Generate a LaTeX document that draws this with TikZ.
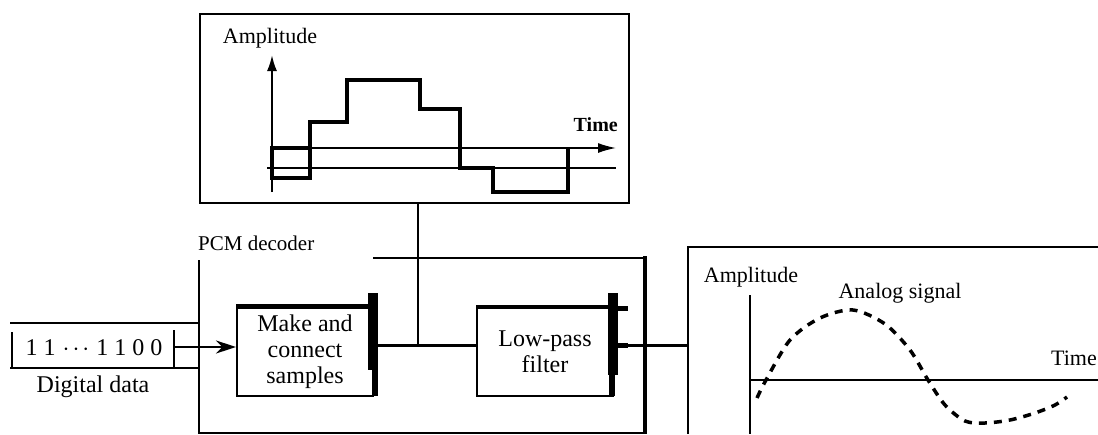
\documentclass[tikz,border=0pt]{standalone}
\usepackage{fontspec}
\setmainfont{Liberation Serif}
\usetikzlibrary{arrows.meta}

\begin{document}
\begin{tikzpicture}[x=1pt,y=-1pt,
    blk/.style={draw,line width=2pt,align=center,inner sep=0pt,
      font=\fontsize{24}{26}\selectfont},
    lbl/.style={inner sep=0pt,font=\fontsize{22}{24}\selectfont},
    ln/.style={line width=2pt},
    stair/.style={line width=4.5pt,line join=miter},
    bar/.style={line width=10pt},
    sig/.style={line width=3.5pt,dash pattern=on 8pt off 7pt}]
    \useasboundingbox (0,0) rectangle (1098,434);

    % 上のグラフ
    \node[draw,ln,inner sep=0pt,minimum width=429pt,minimum height=189pt,
      anchor=north west] (tb) at (199,13) {};
    \node[lbl] (amp1) at (270,38) {Amplitude};
    \node[lbl,anchor=east,font=\fontsize{20}{22}\selectfont\bfseries] (time1) at (618,125) {Time};
    \coordinate (o1) at (272,192);
    \coordinate (v1) at (272,55);
    \coordinate (h1) at (270,148);
    \coordinate (t1) at (616,148);
    \draw [ln,-{Latex[length=16pt,width=10pt]}] (o1) -- (v1);
    \draw [line width=1.5pt,-{Latex[length=18pt,width=10pt]}] (h1) -- (t1);
    \draw [line width=1.5pt] (267,168) -- (616,168);
    \draw [stair] (310,148) -- (272,148) -- (272,178) -- (310,178) -- (310,122)
      -- (347,122) -- (347,80) -- (420,80) -- (420,109) -- (460,109)
      -- (460,168) -- (493,168) -- (493,192) -- (568,192) -- (568,148);

    % PCM decoder
    \node[lbl,anchor=west,font=\fontsize{21}{23}\selectfont] (pcm) at (198,243) {PCM decoder};
    \draw [ln] (199,260) -- (199,434);
    \draw [ln] (373,258) -- (645,258);
    \draw [ln] (199,433) -- (645,433);
    \draw [line width=4pt] (645,256) -- (645,434);

    % ブロック
    \node[blk,minimum width=136pt,minimum height=89pt] (mk) at (305,351.5)
      {Make and\\connect\\samples};
    \node[blk,minimum width=136pt,minimum height=88pt] (lp) at (545,352)
      {Low-pass\\filter};
    \draw [line width=5pt] (mk.north west) -- (mk.north east);
    \draw [line width=4pt] (lp.north west) -- (lp.north east);
    \draw [bar] (373,293) -- (373,370);
    \draw [line width=6pt] (375,370) -- (375,396);
    \draw [bar] (613,293) -- (613,375);
    \draw [line width=6pt] (612,375) -- (612,396);
    \draw [line width=5pt] (608,308) -- (628,308);
    \draw [line width=5pt] (608,345) -- (628,345);

    % 接続線
    \coordinate (j) at (418,345);
    \coordinate (rb) at (688,345);
    \draw [ln] (tb.south -| j) -- (j);
    \draw [line width=3pt] (mk.east |- j) -- (j) -- (lp.west |- j);
    \draw [line width=3pt] (lp.east |- j) -- (rb);

    % ディジタルデータ
    \node[lbl,font=\fontsize{24}{26}\selectfont] (bits) at (94,348)
      {1\hspace{6pt}1\hspace{7pt}$\cdot$\hspace{3pt}$\cdot$\hspace{3pt}$\cdot$\hspace{7pt}1\hspace{6pt}1\hspace{6pt}0\hspace{6pt}0};
    \node[lbl,font=\fontsize{24}{26}\selectfont] (dlab) at (93,387) {Digital data};
    \draw [ln] (10,323) -- (199,323);
    \draw [ln] (10,368) -- (199,368);
    \draw [ln] (12,332) -- (12,368);
    \draw [ln] (174,330) -- (174,368);
    \coordinate (dd) at (174,347);
    \draw [ln,-{Stealth[length=20pt,width=13pt]}] (dd) -- (dd -| mk.west);

    % 右のグラフ
    \draw [ln] (1098,247) -- (rb |- 0,247) -- (rb |- 0,434);
    \node[lbl] (amp2) at (751,277) {Amplitude};
    \node[lbl] (ana) at (900,293) {Analog signal};
    \node[lbl,anchor=east] (time2) at (1097,358) {Time};
    \coordinate (o2) at (750,380);
    \draw [ln] (750,295) -- (750,434);
    \draw [ln] (o2) -- (1098,380);
    \draw [sig] plot[smooth] coordinates {(757,398) (766,380) (790,340) (820,318)
      (853,310) (885,324) (910,350) (928,380) (945,405) (965,421) (985,423)
      (1010,420) (1035,413) (1055,405) (1067,397)};

\end{tikzpicture}
\end{document}
